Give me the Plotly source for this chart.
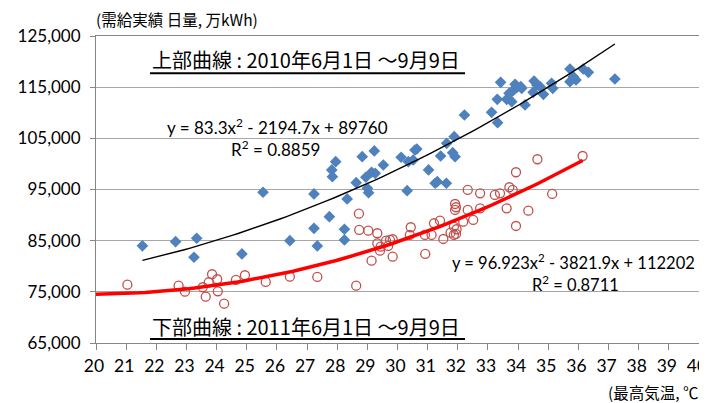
import numpy as np
import plotly.graph_objects as go

# 2010 (upper) : max temperature (°C) vs daily demand (万kWh)
temp_2010 = [21.54, 22.64, 23.34, 23.25, 24.84, 25.54, 26.43, 27.23, 27.34, 27.23,
             27.74, 27.84, 27.82, 27.95, 28.33, 28.24, 28.24, 28.63, 28.83, 28.95,
             29.00, 29.04, 29.14, 29.23, 29.26, 29.53, 30.12, 30.32, 30.36, 30.52,
             30.58, 30.64, 31.03, 31.25, 31.32, 31.62, 31.43, 31.83, 31.91, 31.88,
             31.63, 32.22, 33.12, 33.32, 33.31, 33.42, 33.62, 33.82, 33.79, 33.90,
             33.95, 34.09, 34.23, 34.53, 34.62, 34.73, 34.50, 34.84, 35.11, 35.15,
             35.72, 35.72, 35.83, 35.92, 36.16, 36.33, 37.21, 33.84, 34.12, 33.70]
demand_2010 = [84000, 84800, 85470, 81760, 82400, 94460, 85000, 94130, 83970, 87420,
               89690, 97510, 98820, 100440, 93150, 87230, 85140, 96340, 101420, 97390,
               95240, 94380, 98370, 102530, 98170, 99790, 101300, 94770, 100440, 100770,
               102720, 102920, 98820, 96220, 96530, 96220, 101550, 102200, 101420, 105320,
               104030, 109560, 110090, 108060, 112630, 115950, 112630, 114250, 112160, 115560,
               114900, 115090, 111520, 116210, 115430, 115090, 114000, 113610, 115760, 114780,
               118550, 116070, 117050, 116400, 118550, 117910, 116600, 114450, 114780, 113800]

# 2011 (lower)
temp_2011 = [21.04, 22.74, 22.95, 23.54, 23.64, 23.74, 23.85, 24.02, 24.04, 24.25,
             24.64, 24.94, 25.63, 26.43, 27.34, 28.72, 28.63, 28.73, 29.03, 29.14,
             29.33, 29.33, 29.42, 29.62, 29.69, 29.75, 29.84, 29.84, 29.44, 30.44,
             30.41, 30.92, 30.91, 31.13, 31.21, 31.41, 31.52, 31.76, 31.87, 31.94,
             31.96, 31.87, 31.91, 31.91, 31.94, 32.18, 32.51, 32.33, 32.74, 32.33,
             32.74, 33.23, 33.40, 33.62, 33.71, 33.82, 33.93, 33.93, 34.34, 34.64,
             35.13, 36.14]
demand_2011 = [76400, 76210, 75040, 75900, 74060, 76870, 78440, 77460, 75110, 72690,
               77320, 78240, 76930, 77970, 77910, 90280, 76210, 87090, 86960, 81090,
               86450, 84490, 83050, 85000, 83970, 85140, 81880, 85280, 83830, 87620,
               86120, 82400, 86120, 86120, 88400, 88910, 85330, 86560, 86120, 86310,
               87230, 87740, 91000, 92170, 91530, 88710, 89050, 91000, 91330, 94910,
               94260, 93930, 94260, 91330, 95440, 94910, 98370, 87870, 90860, 100910,
               94130, 101550]

# trendline coefficients (from the chart labels)
coef_2010 = [83.3, -2194.7, 89760]
coef_2011 = [96.923, -3821.9, 112202]
range_2010 = [min(temp_2010), max(temp_2010)]
range_2011 = [20.0, max(temp_2011)]

x_ticks = list(range(20, 41))
y_ticks = list(range(65000, 125001, 10000))

xt1 = np.linspace(range_2010[0], range_2010[1], 80)
yt1 = np.polyval(coef_2010, xt1)
xt2 = np.linspace(range_2011[0], range_2011[1], 80)
yt2 = np.polyval(coef_2011, xt2)

NUM_FONT = "Lato"
JP_FONT = "Noto Sans CJK JP"

fig = go.Figure()
fig.add_trace(go.Scatter(x=temp_2010, y=demand_2010, mode="markers",
                         marker=dict(symbol="diamond", size=9, color="#4F81BD", line=dict(width=0)),
                         showlegend=False))
fig.add_trace(go.Scatter(x=temp_2011, y=demand_2011, mode="markers",
                         marker=dict(symbol="circle-open", size=9, color="#C0504D", line=dict(width=1.3)),
                         showlegend=False))
fig.add_trace(go.Scatter(x=xt1, y=yt1, mode="lines", line=dict(color="black", width=1.4),
                         showlegend=False))
fig.add_trace(go.Scatter(x=xt2, y=yt2, mode="lines", line=dict(color="#FF0000", width=3.5),
                         showlegend=False))

# page body has an 8px margin, so the figure is 8px smaller and shifted
fig.update_layout(
    width=699, height=395,
    margin=dict(l=88, r=8, t=28, b=60),
    paper_bgcolor="white", plot_bgcolor="white",
    font=dict(family=NUM_FONT, size=17, color="black"),
    xaxis=dict(range=[20, 40], tickvals=x_ticks, ticktext=[str(v) for v in x_ticks],
               showgrid=False, zeroline=False, showline=True, linecolor="#868686", linewidth=1,
               mirror=True, ticks="outside", ticklen=6, tickcolor="#868686",
               tickfont=dict(family=NUM_FONT, size=17.5), ticklabelstandoff=1,
               ticklabelshift=-2, ticklabeloverflow="allow", automargin=False),
    yaxis=dict(range=[65000, 125000], tickvals=y_ticks, ticktext=[f"{v:,}" for v in y_ticks],
               showgrid=True, gridcolor="#A6A6A6", gridwidth=1, zeroline=False,
               showline=True, linecolor="#868686", linewidth=1, mirror=True,
               ticks="outside", ticklen=5, tickcolor="#868686",
               tickfont=dict(family=NUM_FONT, size=17), ticklabelstandoff=6,
               automargin=False),
)

ann = [
    dict(text="(需給実績 日量, 万kWh)", x=-0.003, y=1.055, xanchor="left", yanchor="middle",
         font=dict(family=JP_FONT, size=15.5)),
    dict(text="(最高気温, ℃", x=1.003, y=-0.16, xanchor="right", yanchor="middle",
         font=dict(family=JP_FONT, size=15.5)),
    dict(text="上部曲線 : 2010年6月1日 ～9月9日", x=0.0896, y=0.922, xanchor="left", yanchor="middle",
         font=dict(family=JP_FONT, size=20)),
    dict(text="下部曲線 : 2011年6月1日 ～9月9日", x=0.0896, y=0.055, xanchor="left", yanchor="middle",
         font=dict(family=JP_FONT, size=20)),
    dict(text="y = 83.3x<sup>2</sup> - 2194.7x + 89760", x=0.4876, y=0.7036, xanchor="right",
         yanchor="middle", font=dict(family=NUM_FONT, size=17)),
    dict(text="R<sup>2</sup> = 0.8859", x=0.3748, y=0.635, xanchor="right", yanchor="middle",
         font=dict(family=NUM_FONT, size=17)),
    dict(text="y = 96.923x<sup>2</sup> - 3821.9x + 112202", x=0.9967, y=0.264, xanchor="right",
         yanchor="middle", font=dict(family=NUM_FONT, size=16.5)),
    dict(text="R<sup>2</sup> = 0.8711", x=0.8706, y=0.192, xanchor="right", yanchor="middle",
         font=dict(family=NUM_FONT, size=16.5)),
]
for a in ann:
    fig.add_annotation(xref="paper", yref="paper", showarrow=False, **a)

for yy in (0.879, 0.013):
    fig.add_shape(type="line", xref="paper", yref="paper", x0=0.0896, x1=0.612, y0=yy, y1=yy,
                  line=dict(color="black", width=2))

fig.write_html("out.html")
